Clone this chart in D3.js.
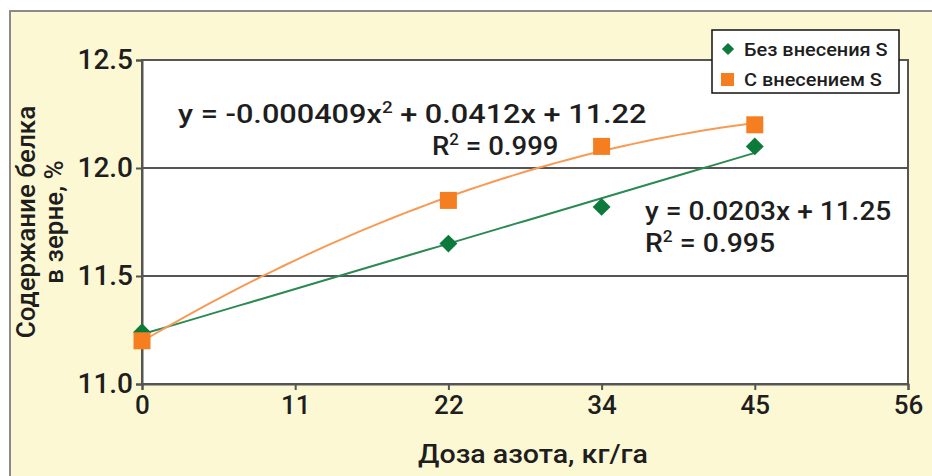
<!DOCTYPE html>
<html><head><meta charset="utf-8">
<script src="https://cdn.jsdelivr.net/npm/d3@7"></script>
<style>
html,body{margin:0;padding:0;background:#fff;}
svg{display:block;font-family:Roboto,"Liberation Sans",Arial,sans-serif;font-weight:500;}
</style></head>
<body>
<svg id="c" width="932" height="476"></svg>
<script>
// ---- data ----
const doses = [0, 22.4, 33.6, 44.8];            // кг/га (shown rounded)
const withoutS = [11.24, 11.65, 11.82, 12.10];  // Без внесения S
const withS = [11.20, 11.85, 12.10, 12.20];     // С внесением S
const xTicks = [0, 11.2, 22.4, 33.6, 44.8, 56];
const yTicks = [11.0, 11.5, 12.0, 12.5];
const seriesNames = ["Без внесения S", "С внесением S"];
const eqQuad = ["y = -0.000409x", "2", " + 0.0412x + 11.22"];
const eqLin = "y = 0.0203x + 11.25";
const r2Quad = "0.999", r2Lin = "0.995";

const green = "#0b7a3a", greenLine = "#2a8a52";
const orange = "#f57e20", orangeLine = "#f89a55";
const cream = "#fdf8d4";
const ink = "#1e1e1e";

const svg = d3.select("#c");
const L = 142, R = 908, T = 60, B = 384;
const x = d3.scaleLinear().domain([0, 56]).range([L, R]);
const y = d3.scaleLinear().domain([11, 12.5]).range([B, T]);

// outer panel
svg.append("rect").attr("x", 10).attr("y", 11).attr("width", 940).attr("height", 480)
  .attr("fill", cream).attr("stroke", "#8a8a8a").attr("stroke-width", 2);

// plot area
svg.append("rect").attr("x", L).attr("y", T).attr("width", R - L).attr("height", B - T)
  .attr("fill", "#fff");

// gridlines
svg.append("g").selectAll("line").data(yTicks.slice(1, 3)).join("line")
  .attr("x1", L).attr("x2", R).attr("y1", d => y(d)).attr("y2", d => y(d))
  .attr("stroke", "#555").attr("stroke-width", 2);

// plot border
svg.append("rect").attr("x", L).attr("y", T).attr("width", R - L).attr("height", B - T)
  .attr("fill", "none").attr("stroke", "#555").attr("stroke-width", 2);

// axes
const xAxis = d3.axisBottom(x).tickValues(xTicks).tickFormat(d3.format(".0f")).tickSize(6).tickPadding(6);
const gx = svg.append("g").attr("transform", `translate(0,${B})`).call(xAxis);
gx.select(".domain").attr("stroke", "#555").attr("stroke-width", 2);
gx.selectAll(".tick line").attr("stroke", "#555").attr("stroke-width", 2);
gx.selectAll(".tick text").attr("font-size", 26).attr("fill", ink)
  .attr("font-family", "Roboto, Liberation Sans, Arial, sans-serif");

const yAxis = d3.axisLeft(y).tickValues(yTicks).tickFormat(d3.format(".1f")).tickSize(6).tickPadding(3);
const gy = svg.append("g").attr("transform", `translate(${L},0)`).call(yAxis);
gy.select(".domain").attr("stroke", "#555").attr("stroke-width", 2);
gy.selectAll(".tick line").attr("stroke", "#555").attr("stroke-width", 2);
gy.selectAll(".tick text").attr("font-size", 28).attr("fill", ink)
  .attr("font-family", "Roboto, Liberation Sans, Arial, sans-serif");

// least-squares fits (as a spreadsheet trendline would)
function polyfit(xs, ys, deg) {
  const n = deg + 1;
  const A = Array.from({length: n}, () => new Array(n + 1).fill(0));
  for (let i = 0; i < xs.length; i++) {
    for (let r = 0; r < n; r++) {
      for (let c = 0; c < n; c++) A[r][c] += Math.pow(xs[i], r + c);
      A[r][n] += ys[i] * Math.pow(xs[i], r);
    }
  }
  for (let p = 0; p < n; p++) {
    for (let r = p + 1; r < n; r++) {
      const f = A[r][p] / A[p][p];
      for (let c = p; c <= n; c++) A[r][c] -= f * A[p][c];
    }
  }
  const co = new Array(n).fill(0);
  for (let r = n - 1; r >= 0; r--) {
    let s = A[r][n];
    for (let c = r + 1; c < n; c++) s -= A[r][c] * co[c];
    co[r] = s / A[r][r];
  }
  return xv => co.reduce((a, c, i) => a + c * Math.pow(xv, i), 0);
}
const fLin = polyfit(doses, withoutS, 1);
const fQuad = polyfit(doses, withS, 2);
const xs = d3.range(0, 44.8 + 0.001, 0.8);
const line = d3.line().x(d => x(d[0])).y(d => y(d[1]));

svg.append("path").attr("d", line(xs.map(v => [v, fLin(v)])))
  .attr("fill", "none").attr("stroke", greenLine).attr("stroke-width", 2);
svg.append("path").attr("d", line(xs.map(v => [v, fQuad(v)])))
  .attr("fill", "none").attr("stroke", orangeLine).attr("stroke-width", 2);

// markers
const diamond = d3.symbol().type(d3.symbolSquare).size(160);
svg.append("g").selectAll("path").data(doses).join("path")
  .attr("d", diamond)
  .attr("transform", (d, i) => `translate(${x(d)},${y(withoutS[i])}) rotate(45)`)
  .attr("fill", green);
svg.append("g").selectAll("rect").data(doses).join("rect")
  .attr("x", d => x(d) - 8.5).attr("width", 17).attr("height", 17)
  .attr("y", (d, i) => y(withS[i]) - 8.5)
  .attr("fill", orange);

// stretched text helper
function txt(px, py, sx) {
  return svg.append("text").attr("transform", `translate(${px},${py}) scale(${sx},1)`)
    .attr("fill", ink);
}
const fs = 26, sup = 16;
const t1 = txt(178, 123, 1.18).attr("font-size", fs);
t1.append("tspan").text(eqQuad[0]);
t1.append("tspan").text(eqQuad[1]).attr("dy", -10).attr("font-size", sup);
t1.append("tspan").text(eqQuad[2]).attr("dy", 10);
const t2 = txt(432, 155, 1.06).attr("font-size", fs);
t2.append("tspan").text("R");
t2.append("tspan").text("2").attr("dy", -10).attr("font-size", sup);
t2.append("tspan").text(" = " + r2Quad).attr("dy", 10);

txt(645, 220, 1.08).attr("font-size", fs).text(eqLin);
const t4 = txt(645, 252, 1.09).attr("font-size", fs);
t4.append("tspan").text("R");
t4.append("tspan").text("2").attr("dy", -10).attr("font-size", sup);
t4.append("tspan").text(" = " + r2Lin).attr("dy", 10);

// axis titles
txt(418, 463, 1.1).attr("font-size", 26).text("Доза азота, кг/га");
const yt = svg.append("text").attr("transform", "translate(35,222) rotate(-90)")
  .attr("text-anchor", "middle").attr("font-size", 26).attr("fill", ink);
yt.append("tspan").attr("x", 0).attr("y", 0).text("Содержание белка");
yt.append("tspan").attr("x", 0).attr("y", 28).text("в зерне, %");

// legend
const lg = svg.append("g");
lg.append("rect").attr("x", 712).attr("y", 30).attr("width", 187).attr("height", 63)
  .attr("fill", "#fff").attr("stroke", "#111").attr("stroke-width", 1.5);
lg.append("path").attr("d", d3.symbol().type(d3.symbolSquare).size(75))
  .attr("transform", "translate(728,49) rotate(45)").attr("fill", green);
lg.append("rect").attr("x", 721).attr("y", 73).attr("width", 13).attr("height", 13).attr("fill", orange);
lg.selectAll("text").data(seriesNames).join("text")
  .attr("transform", (d, i) => `translate(744,${56 + i * 30}) scale(1.05,1)`)
  .attr("font-size", 19).attr("fill", ink).text(d => d);
</script>
</body></html>
